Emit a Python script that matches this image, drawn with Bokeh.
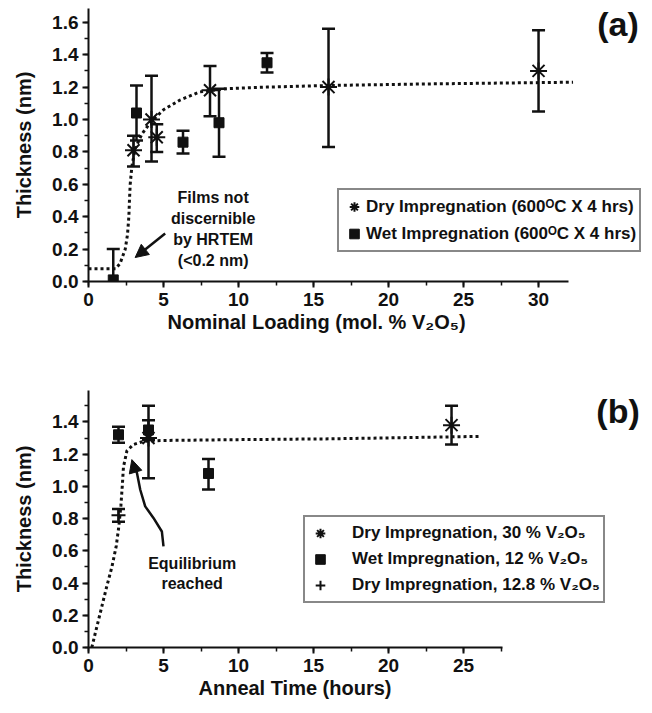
from bokeh.plotting import figure
from bokeh.layouts import column
from bokeh.models import (Range1d, SingleIntervalTicker, PrintfTickFormatter, FixedTicker,
                          LinearAxis, Legend, LegendItem, Label, Arrow, NormalHead, Title)
from bokeh.embed import file_html
from bokeh.resources import INLINE

FONT = "Liberation Sans"
INK = "#111111"

# ---------------- Panel (a) data ----------------
a_dry_x = [3.0, 4.2, 4.55, 8.1, 16.0, 30.0]
a_dry_y = [0.81, 1.00, 0.89, 1.18, 1.20, 1.30]
a_dry_lo = [0.71, 0.74, 0.80, 1.02, 0.83, 1.05]
a_dry_hi = [0.90, 1.27, 0.97, 1.33, 1.56, 1.55]

a_wet_x = [1.65, 3.2, 6.3, 8.7, 11.9]
a_wet_y = [0.01, 1.04, 0.86, 0.98, 1.35]
a_wet_lo = [-0.18, 0.87, 0.79, 0.77, 1.29]
a_wet_hi = [0.20, 1.21, 0.93, 1.19, 1.41]

a_fit_x = [0, 1.8, 2.1, 2.45, 2.6, 2.69, 2.73, 2.78, 2.89, 3.11, 3.56, 4.11,
           5.0, 6.1, 7.4, 9.2, 11.9, 16.1, 23.0, 32.3]
a_fit_y = [0.078, 0.078, 0.11, 0.20, 0.29, 0.40, 0.50, 0.60, 0.71, 0.82, 0.91,
           0.98, 1.06, 1.12, 1.17, 1.19, 1.20, 1.21, 1.22, 1.23]

a_x_end = 32
a_legend = ["Dry Impregnation (600\u1d3cC X 4 hrs)",
            "Wet Impregnation (600\u1d3cC X 4 hrs)"]
a_xlabel = "Nominal Loading (mol. % V\u2082O\u2085)"
a_note = "Films not\ndiscernible\nby HRTEM\n(<0.2 nm)"
a_note_xy = (8.31, 0.324)
a_arrow = (5.11, 0.296, 3.11, 0.148)
a_tag_xy = (35.3, 1.59)

# ---------------- Panel (b) data ----------------
b_dry30_x = [4.0, 24.2]
b_dry30_y = [1.30, 1.38]
b_dry30_lo = [1.05, 1.26]
b_dry30_hi = [1.50, 1.50]

b_wet12_x = [2.0, 4.0, 8.0]
b_wet12_y = [1.32, 1.35, 1.08]
b_wet12_lo = [1.27, 1.29, 0.98]
b_wet12_hi = [1.37, 1.41, 1.17]

b_dry128_x = [2.0]
b_dry128_y = [0.82]
b_dry128_lo = [0.78]
b_dry128_hi = [0.86]

b_fit_x = [0.22, 0.56, 0.89, 1.22, 1.56, 1.85, 2.02, 2.16, 2.25, 2.33, 2.56,
           3.0, 3.67, 5.0, 10.0, 16.1, 26.0]
b_fit_y = [0.0, 0.13, 0.255, 0.38, 0.50, 0.63, 0.75, 0.88, 1.0, 1.12, 1.22,
           1.26, 1.28, 1.285, 1.29, 1.295, 1.31]

b_x_end = 27.6
b_legend = ["Dry Impregnation, 30 % V\u2082O\u2085",
            "Wet Impregnation, 12 % V\u2082O\u2085",
            "Dry Impregnation, 12.8 % V\u2082O\u2085"]
b_xlabel = "Anneal Time (hours)"
b_note = "Equilibrium\nreached"
b_note_xy = (6.91, 0.458)
b_curve_x = [5.0, 4.89, 4.33, 3.78, 3.45, 3.23, 3.05]
b_curve_y = [0.627, 0.720, 0.804, 0.876, 0.979, 1.083, 1.12]
b_arrow = (3.1, 1.10, 2.89, 1.166)
b_tag_xy = (35.3, 1.47)

ylabel = "Thickness (nm)"
X_VIEW_END = 37.13   # drawing area reaches past the axis end (legend / panel tag)


def style(p, xlabel, x_end, label_offset, label_gap):
    p.outline_line_color = None
    p.xgrid.visible = False
    p.ygrid.visible = False
    p.background_fill_color = "white"
    p.border_fill_color = "white"
    p.xaxis.ticker = SingleIntervalTicker(interval=5, num_minor_ticks=2)
    p.yaxis.ticker = SingleIntervalTicker(interval=0.2, num_minor_ticks=2)
    p.yaxis.formatter = PrintfTickFormatter(format="%.1f")
    p.xaxis.bounds = (0, x_end)
    p.yaxis.axis_label = ylabel
    for ax in (p.xaxis, p.yaxis):
        ax.axis_line_width = 2
        ax.axis_line_color = INK
        ax.major_tick_line_width = 2
        ax.major_tick_line_color = INK
        ax.minor_tick_line_width = 1.5
        ax.minor_tick_line_color = INK
        ax.major_tick_out = 6
        ax.major_tick_in = 0
        ax.minor_tick_out = 4
        ax.minor_tick_in = 0
        ax.major_label_text_font = FONT
        ax.major_label_text_font_style = "bold"
        ax.major_label_text_font_size = "19px"
        ax.major_label_text_color = INK
        ax.axis_label_text_font = FONT
        ax.axis_label_text_font_style = "bold"
        ax.axis_label_text_font_size = "20px"
        ax.axis_label_text_color = INK
    p.xaxis.major_label_standoff = 5
    p.yaxis.major_label_standoff = 4
    p.yaxis.axis_label_standoff = 14
    # empty spacer axis (no ticks drawn): only pushes the x label away from the tick labels
    spacer = LinearAxis(ticker=FixedTicker(ticks=[]), axis_line_color="white",
                        axis_line_width=0.1,
                        major_tick_line_color="white", minor_tick_line_color="white",
                        major_tick_out=label_gap, major_tick_in=0,
                        minor_tick_out=0, minor_tick_in=0, major_label_standoff=0)
    p.add_layout(spacer, "below")
    p.add_layout(Title(text=xlabel, align="left", offset=label_offset,
                       text_font=FONT, text_font_size="20px", text_font_style="bold",
                       text_color=INK, standoff=0), "below")


def errbars(p, x, lo, hi):
    p.segment(x0=x, y0=lo, x1=x, y1=hi, line_color=INK, line_width=2.5)
    p.scatter(x=x, y=lo, marker="dash", size=13, line_color=INK, line_width=2.5)
    p.scatter(x=x, y=hi, marker="dash", size=13, line_color=INK, line_width=2.5)


def make_legend(items, loc, pad, gw, gh, standoff):
    return Legend(items=items, location=loc, orientation="vertical",
                  padding=pad, spacing=0, margin=0,
                  glyph_width=gw, glyph_height=gh, label_height=gh,
                  label_standoff=standoff,
                  label_text_font=FONT, label_text_font_style="bold",
                  label_text_font_size="17px", label_text_color=INK,
                  border_line_color=INK, border_line_width=2,
                  background_fill_color="white", background_fill_alpha=1.0)


# ---------------- Figure (a) ----------------
fa = figure(width=652, height=355, x_range=Range1d(0, X_VIEW_END), y_range=Range1d(0, 1.685),
            output_backend="svg", toolbar_location=None,
            min_border_left=88, min_border_right=7, min_border_top=8, min_border_bottom=74)
style(fa, a_xlabel, a_x_end, 79, 13)

fa.line(a_fit_x, a_fit_y, line_color=INK, line_width=3, line_dash="3 3")
errbars(fa, a_dry_x, a_dry_lo, a_dry_hi)
errbars(fa, a_wet_x, a_wet_lo, a_wet_hi)
ra_dry = fa.scatter(a_dry_x, a_dry_y, marker="asterisk", size=17, line_color=INK, line_width=2)
ra_wet = fa.scatter(a_wet_x, a_wet_y, marker="square", size=10, fill_color=INK, line_color=INK)

fa.add_layout(Label(x=a_note_xy[0], y=a_note_xy[1], text=a_note, text_align="center",
                    text_baseline="middle", text_font=FONT, text_font_style="bold",
                    text_font_size="16px", text_color=INK, text_line_height=1.25))
fa.add_layout(Arrow(x_start=a_arrow[0], y_start=a_arrow[1], x_end=a_arrow[2], y_end=a_arrow[3],
                    line_width=2.5, line_color=INK,
                    end=NormalHead(size=13, fill_color=INK, line_color=INK)))
fa.add_layout(Label(x=a_tag_xy[0], y=a_tag_xy[1], text="(a)", text_align="center",
                    text_baseline="middle", text_font=FONT, text_font_style="bold",
                    text_font_size="34px", text_color=INK))

fa.add_layout(make_legend([LegendItem(label=a_legend[0], renderers=[ra_dry]),
                           LegendItem(label=a_legend[1], renderers=[ra_wet])],
                          (249, 29), 3, 24, 27, 0))

# ---------------- Figure (b) ----------------
fb = figure(width=652, height=358, x_range=Range1d(0, X_VIEW_END), y_range=Range1d(0, 1.595),
            output_backend="svg", toolbar_location=None,
            min_border_left=88, min_border_right=7, min_border_top=35, min_border_bottom=66)
style(fb, b_xlabel, b_x_end, 110, 7)

fb.line(b_fit_x, b_fit_y, line_color=INK, line_width=3, line_dash="3 3")
errbars(fb, b_dry30_x, b_dry30_lo, b_dry30_hi)
errbars(fb, b_wet12_x, b_wet12_lo, b_wet12_hi)
errbars(fb, b_dry128_x, b_dry128_lo, b_dry128_hi)
rb_dry30 = fb.scatter(b_dry30_x, b_dry30_y, marker="asterisk", size=17, line_color=INK, line_width=2)
rb_wet12 = fb.scatter(b_wet12_x, b_wet12_y, marker="square", size=10, fill_color=INK, line_color=INK)
rb_dry128 = fb.scatter(b_dry128_x, b_dry128_y, marker="cross", size=14, line_color=INK, line_width=2)

fb.add_layout(Label(x=b_note_xy[0], y=b_note_xy[1], text=b_note, text_align="center",
                    text_baseline="middle", text_font=FONT, text_font_style="bold",
                    text_font_size="16px", text_color=INK, text_line_height=1.15))
fb.line(b_curve_x, b_curve_y, line_color=INK, line_width=2.5)
fb.add_layout(Arrow(x_start=b_arrow[0], y_start=b_arrow[1], x_end=b_arrow[2], y_end=b_arrow[3],
                    line_width=2.5, line_color=INK,
                    end=NormalHead(size=13, fill_color=INK, line_color=INK)))
fb.add_layout(Label(x=b_tag_xy[0], y=b_tag_xy[1], text="(b)", text_align="center",
                    text_baseline="middle", text_font=FONT, text_font_style="bold",
                    text_font_size="34px", text_color=INK))

fb.add_layout(make_legend([LegendItem(label=b_legend[0], renderers=[rb_dry30]),
                           LegendItem(label=b_legend[1], renderers=[rb_wet12]),
                           LegendItem(label=b_legend[2], renderers=[rb_dry128])],
                          (215, 44), 3, 24, 26, 20))

layout = column(fa, fb, spacing=0)
open("out.html", "w").write(file_html(layout, INLINE))
